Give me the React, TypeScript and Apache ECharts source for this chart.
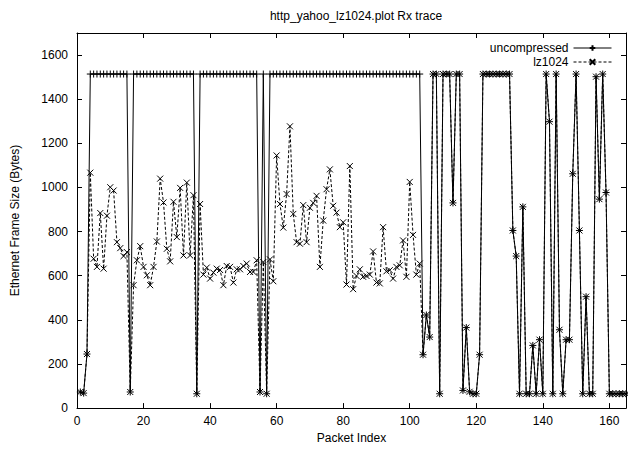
import React, { useEffect, useRef } from 'react';
import * as echarts from 'echarts';

const chartTitle = 'http_yahoo_lz1024.plot Rx trace';
const xAxisName = 'Packet Index';
const yAxisName = 'Ethernet Frame Size (Bytes)';
const seriesNames = ['uncompressed', 'lz1024'];
const firstPacketIndex = 1;

// packets 1..103 (uncompressed)
const uncompressedHead = [
  73, 68, 245,
  1514, 1514, 1514, 1514, 1514, 1514, 1514, 1514, 1514, 1514, 1514, 1514,
  73,
  1514, 1514, 1514, 1514, 1514, 1514, 1514, 1514, 1514, 1514, 1514, 1514, 1514, 1514, 1514, 1514, 1514, 1514, 1514,
  65,
  1514, 1514, 1514, 1514, 1514, 1514, 1514, 1514, 1514, 1514, 1514, 1514, 1514, 1514, 1514, 1514, 1514, 1514,
  73, 1514, 65,
  1514, 1514, 1514, 1514, 1514, 1514, 1514, 1514, 1514, 1514,
  1514, 1514, 1514, 1514, 1514, 1514, 1514, 1514, 1514, 1514,
  1514, 1514, 1514, 1514, 1514, 1514, 1514, 1514, 1514, 1514,
  1514, 1514, 1514, 1514, 1514, 1514, 1514, 1514, 1514, 1514,
  1514, 1514, 1514, 1514, 1514, 1514,
];

// packets 1..103 (lz1024)
const lz1024Head = [
  73, 68, 245, 1067, 677, 640, 884, 632, 872, 1001,
  986, 752, 725, 689, 707, 73, 557, 670, 734, 640,
  602, 557, 640, 755, 1040, 932, 722, 665, 935, 775,
  998, 692, 1022, 692, 965, 65, 925, 605, 637, 587,
  614, 632, 626, 557, 644, 640, 569, 629, 629, 644,
  655, 617, 617, 670, 73, 662, 65, 674, 575, 1145,
  925, 818, 970, 1277, 880, 752, 745, 920, 752, 908,
  930, 962, 640, 850, 992, 1082, 917, 886, 820, 842,
  560, 1097, 539, 599, 629, 595, 599, 605, 710, 569,
  565, 820, 620, 625, 587, 640, 647, 760, 595, 1025,
  785, 605, 655,
];

// packets 104..165 (both traces coincide)
const sharedTail = [
  242, 422, 322, 1514, 1514, 65, 1514, 1514, 1514, 930,
  1514, 1514, 80, 365, 74, 65, 65, 242, 1514, 1514,
  1514, 1514, 1514, 1514, 1514, 1514, 1514, 805, 689, 65,
  912, 65, 65, 284, 65, 310, 65, 1514, 1298, 65,
  1514, 355, 65, 310, 310, 1062, 1514, 805, 65, 505,
  65, 65, 1502, 947, 1514, 977, 65, 65, 65, 65,
  65, 65,
];

const FONT = '"Liberation Sans", Arial, Helvetica, sans-serif';
const PLUS = 'path://M0,5L10,5M5,0L5,10';
const CROSS = 'path://M0,0L10,10M0,10L10,0';

export default function App() {
  const ref = useRef<HTMLDivElement>(null);
  useEffect(() => {
    if (!ref.current) return;
    const chart = echarts.init(ref.current, null, { renderer: 'svg' });
    const toPairs = (arr: number[]) => arr.map((v, k) => [k + firstPacketIndex, v]);
    const unc = toPairs([...uncompressedHead, ...sharedTail]);
    const lz = toPairs([...lz1024Head, ...sharedTail]);
    const plain = (v: number) => String(v);
    const axisCommon = {
      axisLine: { show: true, onZero: false, lineStyle: { color: '#000', width: 1 } },
      axisTick: { show: true, inside: true, length: 5, lineStyle: { color: '#000' } },
      splitLine: { show: false },
    };
    chart.setOption({
      animation: false,
      title: {
        text: chartTitle,
        left: 351,
        textAlign: 'center',
        top: 5,
        textStyle: { fontFamily: FONT, fontSize: 12, fontWeight: 'normal', color: '#000' },
      },
      legend: {
        orient: 'vertical',
        right: 11,
        top: 37,
        align: 'right',
        itemGap: 2,
        itemWidth: 38,
        itemHeight: 7,
        lineStyle: { width: 1 },
        textStyle: { fontFamily: FONT, fontSize: 12, lineHeight: 12, color: '#000', padding: [0, 0, 0, 0] },
        data: seriesNames,
      },
      grid: { left: 77, right: 2, top: 33, bottom: 38, containLabel: false },
      xAxis: [
        {
          type: 'value', min: 0, max: 165, interval: 20, position: 'bottom',
          name: xAxisName, nameLocation: 'middle', nameGap: 22,
          nameTextStyle: { fontFamily: FONT, fontSize: 12, color: '#000' },
          axisLabel: { fontFamily: FONT, fontSize: 12, color: '#000', margin: 7, showMaxLabel: false, formatter: plain },
          ...axisCommon,
        },
        {
          type: 'value', min: 0, max: 165, interval: 20, position: 'top',
          axisLabel: { show: false },
          ...axisCommon,
        },
      ],
      yAxis: [
        {
          type: 'value', min: 0, max: 1700, interval: 200, position: 'left',
          name: yAxisName, nameLocation: 'middle', nameGap: 56,
          nameTextStyle: { fontFamily: FONT, fontSize: 12, color: '#000' },
          axisLabel: { fontFamily: FONT, fontSize: 12, color: '#000', margin: 9, showMaxLabel: false, formatter: plain },
          ...axisCommon,
        },
        {
          type: 'value', min: 0, max: 1700, interval: 200, position: 'right',
          axisLabel: { show: false },
          ...axisCommon,
        },
      ],
      series: [
        {
          name: seriesNames[0],
          type: 'line',
          data: unc,
          symbol: PLUS,
          symbolSize: 7,
          showAllSymbol: true,
          itemStyle: { color: '#000', borderColor: '#000', borderWidth: 1 },
          lineStyle: { color: '#000', width: 1, type: 'solid' },
          z: 2,
        },
        {
          name: seriesNames[1],
          type: 'line',
          data: lz,
          symbol: CROSS,
          symbolSize: 6,
          showAllSymbol: true,
          itemStyle: { color: '#000', borderColor: '#000', borderWidth: 1 },
          lineStyle: { color: '#000', width: 1, type: [3, 2] },
          z: 3,
        },
      ],
    });
    return () => chart.dispose();
  }, []);
  return (
    <div
      ref={ref}
      style={{ position: 'fixed', left: 0, top: 0, width: 628, height: 449, background: '#fff' }}
    />
  );
}
